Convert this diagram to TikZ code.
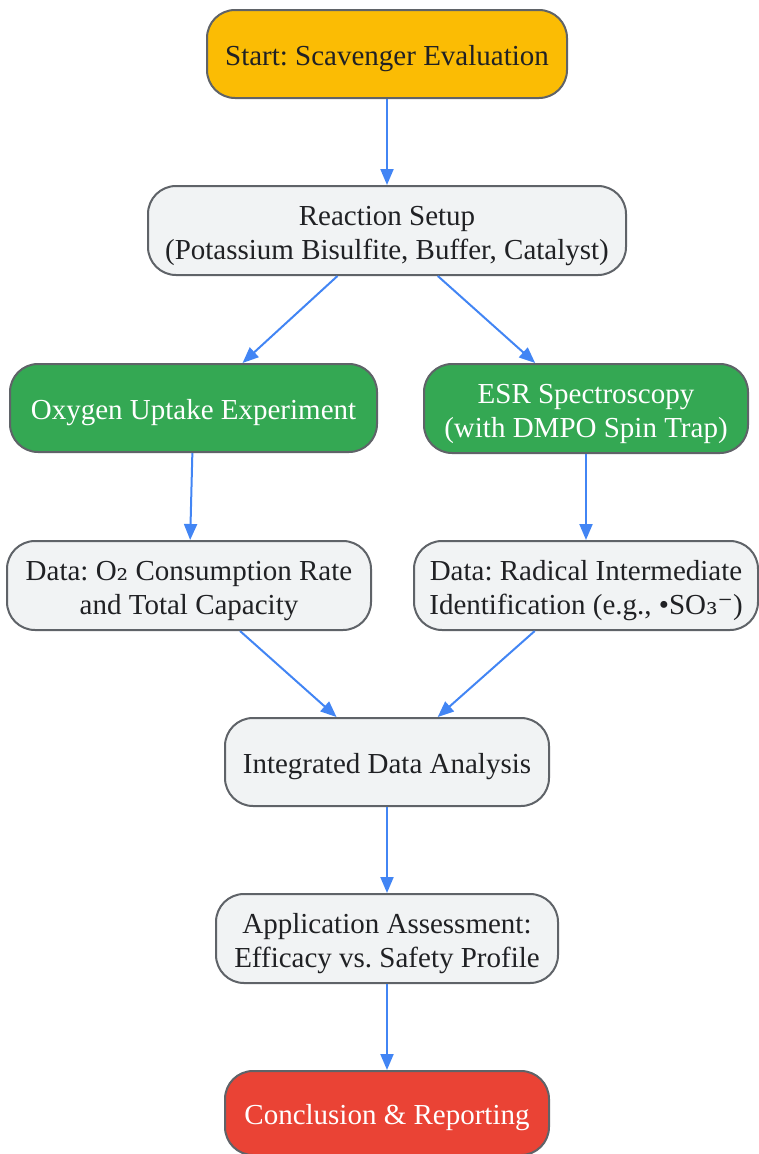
\documentclass[tikz,border=0pt]{standalone}
\usepackage{fontspec}
\setmainfont{Liberation Serif}
\newfontfamily\symfont{DejaVu Serif}
\usetikzlibrary{arrows.meta}
\frenchspacing
\definecolor{cyellow}{HTML}{FBBC04}
\definecolor{cgreen}{HTML}{34A853}
\definecolor{cred}{HTML}{EA4335}
\definecolor{cgrey}{HTML}{F1F3F4}
\definecolor{cborder}{HTML}{5F6368}
\definecolor{ctext}{HTML}{202124}
\definecolor{carrow}{HTML}{4285F4}
\newcommand\topstrut{\rule{0pt}{31pt}}
\tikzset{
  box/.style={draw=cborder, line width=2pt, rounded corners=28pt, align=center,
    font=\fontsize{29}{34}\selectfont\frenchspacing, inner sep=0pt, text=ctext, fill=cgrey,
    execute at begin node={\rule{0pt}{30pt}}},
  startbox/.style={box, fill=cyellow},
  greenbox/.style={box, fill=cgreen, text=white},
  endbox/.style={box, fill=cred, text=white},
  conn/.style={draw=carrow, line width=2pt, -{Triangle[length=16pt,width=13pt]}}
}
\begin{document}
\begin{tikzpicture}[x=1pt,y=-1pt]
\useasboundingbox (0,0) rectangle (758,1154);
\node[startbox, minimum width=360pt, minimum height=88pt] (start) at (387,54) {Start: Scavenger Evaluation};
\node[box, minimum width=478pt, minimum height=89pt] (setup) at (387,230.5) {\topstrut Reaction Setup\\(Potassium Bisulfite, Buffer, Catalyst)};
\node[greenbox, minimum width=367pt, minimum height=88pt] (oxy) at (193.5,408) {Oxygen Uptake Experiment};
\node[greenbox, minimum width=324pt, minimum height=89pt] (esr) at (586,408.5) {\topstrut ESR Spectroscopy\\(with DMPO Spin Trap)};
\node[box, minimum width=364pt, minimum height=89pt] (dox) at (189,585.5) {\topstrut Data: O{\symfont ₂} Consumption Rate\\and Total Capacity};
\node[box, minimum width=344pt, minimum height=89pt] (drad) at (586,585.5) {\topstrut Data: Radical Intermediate\\Identification (e.g., •SO{\symfont ₃⁻})};
\node[box, minimum width=324pt, minimum height=88pt] (integ) at (387,762) {Integrated Data Analysis};
\node[box, minimum width=342pt, minimum height=89pt] (app) at (387,938.5) {\topstrut Application Assessment:\\Efficacy vs. Safety Profile};
\node[endbox, minimum width=324pt, minimum height=84pt] (concl) at (387,1113) {Conclusion \& Reporting};
\draw[conn] (start) -- (setup);
\draw[conn] (setup) -- (oxy);
\draw[conn] (setup) -- (esr);
\draw[conn] (oxy) -- (dox);
\draw[conn] (esr) -- (drad);
\draw[conn] (dox) -- (integ);
\draw[conn] (drad) -- (integ);
\draw[conn] (integ) -- (app);
\draw[conn] (app) -- (concl);
\end{tikzpicture}
\end{document}
